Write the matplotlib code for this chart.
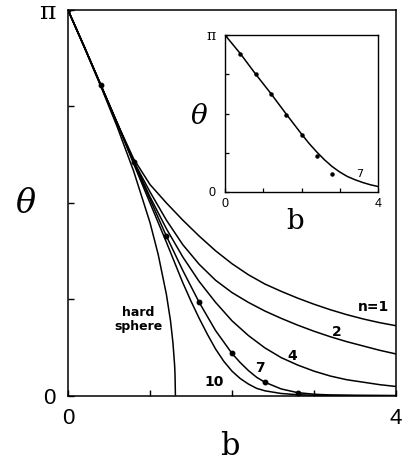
import numpy as np
import matplotlib
matplotlib.use("Agg")
import matplotlib.pyplot as plt

PI = np.pi

# ---------------- data ----------------
b_hs = [0, 0.2, 0.4, 0.6, 0.8, 1.0, 1.1, 1.2, 1.25, 1.28, 1.30, 1.305, 1.31]
th_hs = [3.1416, 2.835, 2.52, 2.19, 1.83, 1.41, 1.15, 0.825, 0.61, 0.43, 0.25, 0.175, 0.0]

b_n10 = [0, 0.2, 0.4, 0.6, 0.8, 1.0, 1.2, 1.4, 1.5, 1.6, 1.7, 1.8, 1.9, 2.0, 2.1,
         2.2, 2.3, 2.4, 2.6, 2.8, 3.0, 3.5, 4.0]
th_n10 = [3.1416, 2.84, 2.53, 2.22, 1.89, 1.57, 1.25, 0.92, 0.77, 0.63, 0.50, 0.38,
          0.28, 0.20, 0.14, 0.095, 0.06, 0.04, 0.018, 0.008, 0.004, 0.001, 0.0]

b_n7 = [0, 0.2, 0.4, 0.6, 0.8, 1.0, 1.2, 1.4, 1.6, 1.8, 2.0, 2.1, 2.2, 2.3, 2.4,
        2.6, 2.8, 3.0, 3.2, 3.5, 4.0]
th_n7 = [3.1416, 2.84, 2.53, 2.22, 1.90, 1.60, 1.30, 1.02, 0.76, 0.53, 0.344, 0.27,
         0.205, 0.15, 0.11, 0.055, 0.025, 0.012, 0.006, 0.003, 0.001]

b_std = [0, 0.2, 0.4, 0.6, 0.8, 1.0, 1.2, 1.4, 1.6, 1.8, 2.0, 2.2, 2.4, 2.6, 2.8,
         3.0, 3.2, 3.4, 3.6, 3.8, 4.0]
th_n4 = [3.1416, 2.84, 2.53, 2.22, 1.91, 1.62, 1.36, 1.13, 0.93, 0.76, 0.61, 0.49,
         0.39, 0.31, 0.25, 0.20, 0.16, 0.13, 0.11, 0.09, 0.075]
th_n2 = [3.1416, 2.84, 2.53, 2.22, 1.91, 1.66, 1.43, 1.23, 1.07, 0.94, 0.84, 0.76,
         0.69, 0.63, 0.575, 0.525, 0.48, 0.44, 0.405, 0.37, 0.34]
th_n1 = [3.1416, 2.84, 2.53, 2.22, 1.93, 1.72, 1.57, 1.43, 1.30, 1.18, 1.075, 0.985,
         0.91, 0.85, 0.795, 0.745, 0.70, 0.66, 0.625, 0.595, 0.57]

b_dots = [0, 0.4, 0.8, 1.2, 1.6, 2.0, 2.4, 2.8]
th_dots = [3.1416, 2.53, 1.90, 1.30, 0.76, 0.344, 0.11, 0.02]

# inset
b_in_line = [0, 0.4, 0.8, 1.2, 1.6, 2.0, 2.2, 2.4, 2.6, 2.8, 3.0, 3.2, 3.4, 3.6, 3.8, 4.0]
th_in_line = [3.1416, 2.77, 2.36, 1.97, 1.56, 1.16, 0.97, 0.80, 0.645, 0.51, 0.40,
              0.31, 0.245, 0.19, 0.145, 0.11]
b_in_dots = [0, 0.4, 0.8, 1.2, 1.6, 2.0, 2.4, 2.8]
th_in_dots = [3.1416, 2.76, 2.355, 1.96, 1.54, 1.14, 0.726, 0.36]

curve_labels = ["n=1", "2", "4", "7", "10"]

# ---------------- figure ----------------
fig = plt.figure(figsize=(4.05, 4.67), dpi=100)
W, H = 405, 467

def frac(l, r, t, b):
    return [l / W, 1 - b / H, (r - l) / W, (b - t) / H]

SANS = "Liberation Sans"
SERIF = "DejaVu Serif"
LW = 1.1

ax = fig.add_axes(frac(68, 396, 10, 395.7))
for bb, tt in [(b_hs, th_hs), (b_n10, th_n10), (b_n7, th_n7),
               (b_std, th_n4), (b_std, th_n2), (b_std, th_n1)]:
    ax.plot(bb, tt, color="black", lw=LW, solid_capstyle="butt")
ax.plot(b_dots, th_dots, "o", color="black", ms=3.2)
ax.set_xlim(0, 4)
ax.set_ylim(0, PI)
ax.set_xticks([0, 1, 2, 3, 4])
ax.set_xticklabels(["0", "", "", "", "4"])
ax.set_yticks([0, PI / 4, PI / 2, 3 * PI / 4, PI])
ax.set_yticklabels(["0", "", "", "", "π"])
ax.tick_params(direction="in", length=4, width=1, labelsize=16)
ax.tick_params(axis="x", pad=9)
ax.tick_params(axis="y", pad=9)
for t in ax.get_xticklabels() + ax.get_yticklabels():
    t.set_fontfamily(SANS)
ax.get_yticklabels()[-1].set_fontfamily(SERIF)
ax.get_yticklabels()[-1].set_fontsize(18)
for s in ax.spines.values():
    s.set_linewidth(1.1)

ax.text(0.494, -0.133, "b", transform=ax.transAxes, ha="center", va="center",
        fontsize=22, family=SERIF)
ax.text(-0.128, 0.497, "θ", transform=ax.transAxes, ha="center", va="center",
        fontsize=24, family=SERIF, style="italic")

lab_kw = dict(ha="center", va="center", fontweight="bold", family="DejaVu Sans")
ax.text(0.854, 0.624, "hard\nsphere", linespacing=1.1, fontsize=9, **lab_kw)
label_pos = [(3.72, 0.72), (3.28, 0.52), (2.74, 0.32), (2.34, 0.225), (1.78, 0.11)]
for txt, (x, y) in zip(curve_labels, label_pos):
    ax.text(x, y, txt, fontsize=10, **lab_kw)

# inset
ai = fig.add_axes(frac(225, 378, 35, 192))
ai.plot(b_in_line, th_in_line, color="black", lw=LW)
ai.plot(b_in_dots, th_in_dots, "o", color="black", ms=2.2)
ai.set_xlim(0, 4)
ai.set_ylim(0, PI)
ai.set_xticks([0, 1, 2, 3, 4])
ai.set_xticklabels(["0", "", "", "", "4"])
ai.set_yticks([0, PI / 4, PI / 2, 3 * PI / 4, PI])
ai.set_yticklabels(["0", "", "", "", "π"])
ai.tick_params(direction="in", length=3, width=0.9, labelsize=9)
ai.tick_params(axis="x", pad=4)
ai.tick_params(axis="y", pad=7)
for t in ai.get_xticklabels() + ai.get_yticklabels():
    t.set_fontfamily(SANS)
ai.get_yticklabels()[-1].set_fontfamily(SERIF)
ai.get_yticklabels()[-1].set_fontsize(10)
for s in ai.spines.values():
    s.set_linewidth(1.0)
ai.text(0.458, -0.191, "b", transform=ai.transAxes, ha="center", va="center",
        fontsize=20, family=SERIF)
ai.text(-0.17, 0.478, "θ", transform=ai.transAxes, ha="center", va="center",
        fontsize=20, family=SERIF, style="italic")
ai.text(3.53, 0.36, "7", ha="center", va="center", fontsize=8, family="DejaVu Sans")

fig.savefig("out.png", dpi=100)
